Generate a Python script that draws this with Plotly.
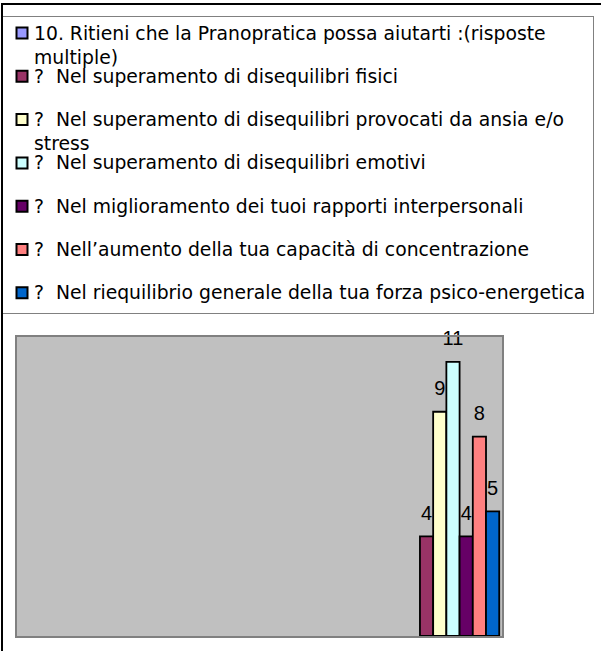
import plotly.graph_objects as go

W, H = 601, 651

# one category, seven answers (the first series has no bar)
category = ["Risposte"]
series_names = [
    "10. Ritieni che la Pranopratica possa aiutarti :(risposte<br>multiple)",
    "? \u00a0Nel superamento di disequilibri fisici",
    "? \u00a0Nel superamento di disequilibri provocati da ansia e/o<br>stress",
    "? \u00a0Nel superamento di disequilibri emotivi",
    "? \u00a0Nel miglioramento dei tuoi rapporti interpersonali",
    "? \u00a0Nell\u2019aumento della tua capacità di concentrazione",
    "? \u00a0Nel riequilibrio generale della tua forza psico-energetica",
]
series_values = [None, 4, 9, 11, 4, 8, 5]
series_colors = ["#9999FF", "#993366", "#FFFFCC", "#CCFFFF", "#660066", "#FF8080", "#0066CC"]

LEGEND_FONT = dict(family="DejaVu Sans", size=18.8, color="black")
LABEL_FONT_SIZE = 20


def px_x(p):
    return p / W


def px_y(p):
    return 1 - p / H


fig = go.Figure()

for name, value, color in zip(series_names, series_values, series_colors):
    fig.add_trace(
        go.Bar(
            x=category,
            y=[value],
            name=name,
            marker=dict(color=color, line=dict(color="black", width=1.8)),
            texttemplate=(
                f"<span style='font-size:{LABEL_FONT_SIZE}px'>%{{y}}</span><br>\u00a0"
            ),
            textposition="outside",
            textfont=dict(family="Liberation Sans", size=9, color="black"),
            constraintext="none",
            cliponaxis=False,
            showlegend=False,
        )
    )

# hand-built legend box, one row per series
n = len(series_names)
fig.add_trace(
    go.Scatter(
        x=[0] * n,
        y=list(range(n)),
        mode="markers",
        marker=dict(symbol="square", size=11, color=series_colors, line=dict(color="black", width=2)),
        xaxis="x2",
        yaxis="y2",
        showlegend=False,
        hoverinfo="skip",
    )
)

annotations = []
for i, name in enumerate(series_names):
    extra_lines = name.count("<br>")
    annotations.append(
        dict(
            x=0,
            y=i,
            xref="x2",
            yref="y2",
            text=name,
            showarrow=False,
            xanchor="left",
            yanchor="middle",
            align="left",
            xshift=10,
            yshift=-extra_lines * 1.3 * LEGEND_FONT["size"] / 2,
            font=LEGEND_FONT,
        )
    )

axis_off = dict(showticklabels=False, ticks="", showgrid=False, zeroline=False, showline=True, mirror=True)

fig.update_layout(
    width=W,
    height=H,
    margin=dict(l=0, r=0, t=0, b=0),
    paper_bgcolor="white",
    plot_bgcolor="white",
    barmode="group",
    bargap=0.2,
    bargroupgap=0,
    showlegend=False,
    annotations=annotations,
    xaxis=dict(
        domain=[px_x(17), px_x(502)],
        range=[-3.771, 0.424],
        linecolor="#808080",
        linewidth=2,
        **axis_off,
    ),
    yaxis=dict(
        domain=[px_y(636), px_y(337)],
        range=[0, 12],
        linecolor="#808080",
        linewidth=2,
        **axis_off,
    ),
    xaxis2=dict(
        domain=[px_x(3), px_x(593)],
        range=[-19, 571],
        anchor="y2",
        linecolor="#808080",
        linewidth=1,
        **axis_off,
    ),
    yaxis2=dict(
        domain=[px_y(313), px_y(17)],
        range=[6.466, -0.37],
        anchor="x2",
        linecolor="#808080",
        linewidth=1,
        **axis_off,
    ),
    shapes=[
        # grey plot area
        dict(
            type="rect",
            xref="x domain",
            yref="y domain",
            x0=0,
            x1=1,
            y0=0,
            y1=1,
            line=dict(width=0),
            fillcolor="#C0C0C0",
            layer="below",
        ),
        # chart frame (only left and top edges are inside the picture)
        dict(
            type="path",
            xref="paper",
            yref="paper",
            path=f"M {px_x(2)},{-0.1} L {px_x(2)},{px_y(4)} L {1.1},{px_y(4)}",
            line=dict(color="black", width=2),
            layer="above",
        ),
    ],
)

fig.write_html(
    "out.html",
    config={"displayModeBar": False},
    post_script="document.body.style.margin='0';",
)
